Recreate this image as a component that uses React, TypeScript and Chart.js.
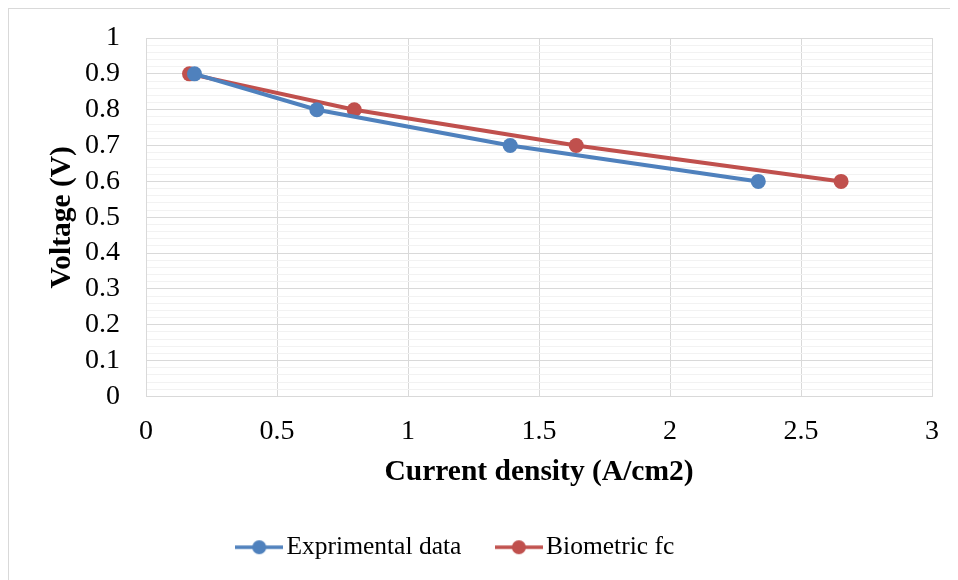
import React, { useEffect, useRef } from "react";
import { Chart, registerables } from "chart.js";

Chart.register(...registerables);

const seriesNames = ["Exprimental data", "Biometric fc"];
const voltage = [0.9, 0.8, 0.7, 0.6];
const expCurrent = [0.185, 0.652, 1.39, 2.337];
const bioCurrent = [0.166, 0.795, 1.642, 2.653];
const colors = ["#4f81bd", "#c0504d"];
const xTitle = "Current density (A/cm2)";
const yTitle = "Voltage (V)";

const FONT = "'Liberation Serif', 'Times New Roman', serif";

function makeMarker(color: string): HTMLCanvasElement {
  const c = document.createElement("canvas");
  c.width = 48;
  c.height = 16;
  const g = c.getContext("2d")!;
  g.strokeStyle = color;
  g.lineWidth = 3.5;
  g.beginPath();
  g.moveTo(0, 8);
  g.lineTo(48, 8);
  g.stroke();
  g.fillStyle = color;
  g.beginPath();
  g.arc(24, 8, 7, 0, Math.PI * 2);
  g.fill();
  return c;
}

const isMajor = (v: number) => Math.abs(v * 10 - Math.round(v * 10)) < 1e-6;

const legendShift = {
  id: "legendShift",
  afterLayout(chart: any) {
    if (chart.legend) {
      chart.legend.left -= 11;
      chart.legend.right -= 11;
    }
  },
};

export default function App() {
  const ref = useRef<HTMLCanvasElement>(null);
  useEffect(() => {
    document.documentElement.style.overflow = "hidden";
    const markers = colors.map(makeMarker);
    const chart = new Chart(ref.current!, {
      type: "line",
      plugins: [legendShift],
      data: {
        datasets: [
          {
            label: seriesNames[0],
            data: expCurrent.map((x, i) => ({ x, y: voltage[i] })),
            borderColor: colors[0],
            backgroundColor: colors[0],
            borderWidth: 4,
            pointRadius: 7.5,
            pointBorderWidth: 0,
            pointStyle: "circle",
          },
          {
            label: seriesNames[1],
            data: bioCurrent.map((x, i) => ({ x, y: voltage[i] })),
            borderColor: colors[1],
            backgroundColor: colors[1],
            borderWidth: 4,
            pointRadius: 7.5,
            pointBorderWidth: 0,
            pointStyle: "circle",
          },
        ],
      },
      options: {
        responsive: false,
        animation: false,
        layout: { padding: { left: 0, top: 29, right: 26, bottom: 10 } },
        plugins: {
          tooltip: { enabled: false },
          legend: {
            position: "bottom",
            labels: {
              font: { family: FONT, size: 25.5 },
              color: "#000",
              usePointStyle: true,
              pointStyleWidth: 29,
              padding: 43,
              generateLabels: (ch: any) => {
                const items = Chart.defaults.plugins.legend.labels.generateLabels(ch);
                items.forEach((it: any, i: number) => {
                  it.pointStyle = markers[i];
                });
                return items;
              },
            },
          },
        },
        scales: {
          x: {
            type: "linear",
            min: 0,
            max: 3,
            afterFit: (s: any) => {
              s.height = 95;
              s.paddingLeft = 0;
              s.paddingRight = 0;
            },
            ticks: {
              stepSize: 0.5,
              padding: 18,
              color: "#000",
              font: { family: FONT, size: 28 },
              maxRotation: 0,
              callback: (v: any) => String(Math.round(v * 10) / 10),
            },
            grid: { color: "#d9d9d9", drawTicks: false, lineWidth: 1 },
            border: { color: "#d9d9d9" },
            title: {
              display: true,
              text: xTitle,
              color: "#000",
              font: { family: FONT, size: 29.5, weight: "bold" },
              padding: { top: 0, bottom: 1 },
            },
          },
          y: {
            type: "linear",
            min: 0,
            max: 1,
            afterFit: (s: any) => {
              s.width = 137;
              s.paddingTop = 0;
              s.paddingBottom = 0;
            },
            ticks: {
              stepSize: 0.02,
              autoSkip: false,
              padding: 26,
              color: "#000",
              font: { family: FONT, size: 28 },
              callback: (v: any) => (isMajor(v) ? String(Math.round(v * 10) / 10) : ""),
            },
            grid: {
              drawTicks: false,
              lineWidth: 1,
              color: (c: any) => (c.tick && isMajor(c.tick.value) ? "#d9d9d9" : "#f2f2f2"),
            },
            border: { color: "#d9d9d9" },
            title: {
              display: true,
              text: yTitle,
              color: "#000",
              font: { family: FONT, size: 29.5, weight: "bold" },
              padding: { top: 36, bottom: 0 },
            },
          },
        },
      },
    } as any);
    return () => chart.destroy();
  }, []);
  return (
    <div style={{ borderTop: "1px solid #d9d9d9", borderLeft: "1px solid #d9d9d9", width: 949, height: 571 }}>
      <canvas ref={ref} width={949} height={571} style={{ display: "block" }} />
    </div>
  );
}
